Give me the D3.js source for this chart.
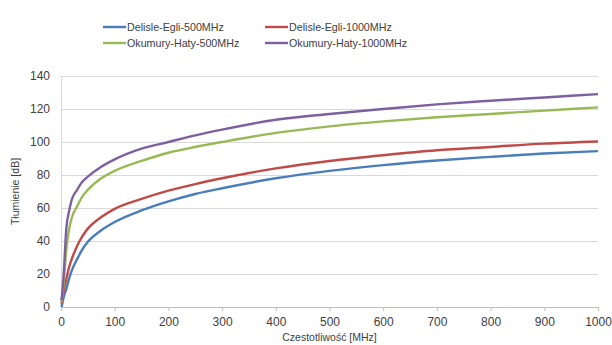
<!DOCTYPE html>
<html>
<head>
<meta charset="utf-8">
<script src="https://cdn.jsdelivr.net/npm/d3@7"></script>
<style>
  body { margin: 0; background: #fff; }
  svg text { font-family: "Liberation Sans", Arial, sans-serif; fill: #404040; }
</style>
</head>
<body>
<div id="chart"></div>
<script>
// frequency axis points
var freq = [1, 5, 10, 15, 20, 30, 40, 50, 75, 100, 150, 200, 250, 300, 400, 500, 600, 700, 800, 900, 1000];

var delisle500  = [0, 6, 11, 17, 22, 29, 35, 39.5, 46.5, 51.5, 58.5, 64, 68.5, 72, 78, 82.5, 86, 88.8, 91, 93, 94.5];
var delisle1000 = [2, 10, 17, 24, 29, 37, 43, 47.5, 54.5, 59.5, 65.5, 70.5, 74.5, 78, 84, 88.5, 92, 95, 97, 99, 100.3];
var okumura500  = [3, 15, 35, 47, 54, 61, 67, 71, 78, 82.5, 88.5, 93.5, 97, 100, 105.5, 109.5, 112.5, 115, 117, 119, 121];
var okumura1000 = [4, 20, 48, 58, 65, 71, 76, 79, 85, 89.5, 96, 100, 104, 107.5, 113.5, 117, 120, 122.8, 125, 127, 129];

var seriesNames  = ["Delisle-Egli-500MHz", "Delisle-Egli-1000MHz", "Okumury-Haty-500MHz", "Okumury-Haty-1000MHz"];
var seriesColors = ["#4a7ebb", "#be4b48", "#98b954", "#7d60a0"];
var seriesValues = [delisle500, delisle1000, okumura500, okumura1000];

var xTicks = [0, 100, 200, 300, 400, 500, 600, 700, 800, 900, 1000];
var yTicks = [0, 20, 40, 60, 80, 100, 120, 140];

var width = 612, height = 345;
var margin = { top: 76, right: 14, bottom: 38, left: 61 };
var w = width - margin.left - margin.right,
    h = height - margin.top - margin.bottom;

var x = d3.scaleLinear().domain([0, 1000]).range([0, w]);
var y = d3.scaleLinear().domain([0, 140]).range([h, 0]);

var svg = d3.select("#chart").append("svg")
  .attr("width", width)
  .attr("height", height);

var g = svg.append("g")
  .attr("transform", "translate(" + margin.left + "," + margin.top + ")");

// horizontal grid
g.append("g")
  .attr("class", "grid")
  .call(d3.axisLeft(y).tickValues(yTicks).tickSize(-w).tickFormat(""))
  .call(function (s) { s.select(".domain").remove(); })
  .selectAll("line")
  .style("stroke", "#d9d9d9")
  .style("stroke-width", 1);

// y axis labels + vertical axis line
var yAxis = g.append("g")
  .call(d3.axisLeft(y).tickValues(yTicks).tickSize(0).tickPadding(11));
yAxis.select(".domain").style("stroke", "#d9d9d9");
yAxis.selectAll("text").style("font-size", "12px");

// x axis
var xAxis = g.append("g")
  .attr("transform", "translate(0," + h + ")")
  .call(d3.axisBottom(x).tickValues(xTicks).tickFormat(d3.format("d")).tickSize(4).tickPadding(6));
xAxis.select(".domain").style("stroke", "#bfbfbf");
xAxis.selectAll("line").style("stroke", "#bfbfbf");
xAxis.selectAll("text").style("font-size", "12px");

// lines
var line = d3.line()
  .x(function (d) { return x(d[0]); })
  .y(function (d) { return y(d[1]); })
  .curve(d3.curveMonotoneX);

seriesValues.forEach(function (vals, i) {
  g.append("path")
    .datum(freq.map(function (f, j) { return [f, vals[j]]; }))
    .attr("fill", "none")
    .attr("stroke", seriesColors[i])
    .attr("stroke-width", 2.4)
    .attr("stroke-linejoin", "round")
    .attr("d", line);
});

// axis titles
svg.append("text")
  .attr("x", margin.left + w / 2)
  .attr("y", 341)
  .attr("text-anchor", "middle")
  .style("font-size", "10.5px")
  .text("Czestotliwość [MHz]");

svg.append("text")
  .attr("transform", "translate(19," + (margin.top + h / 2) + ") rotate(-90)")
  .attr("text-anchor", "middle")
  .style("font-size", "10.5px")
  .text("Tłumienie [dB]");

// legend
var legendPos = [[103, 27], [265, 27], [103, 43], [265, 43]];
seriesNames.forEach(function (name, i) {
  var lg = svg.append("g")
    .attr("transform", "translate(" + legendPos[i][0] + "," + legendPos[i][1] + ")");
  lg.append("line")
    .attr("x1", 0).attr("x2", 23)
    .attr("y1", 0).attr("y2", 0)
    .attr("stroke", seriesColors[i])
    .attr("stroke-width", 2.4);
  lg.append("text")
    .attr("x", 24)
    .attr("y", 0)
    .attr("dy", "0.35em")
    .style("font-size", "10.7px")
    .text(name);
});
</script>
</body>
</html>
